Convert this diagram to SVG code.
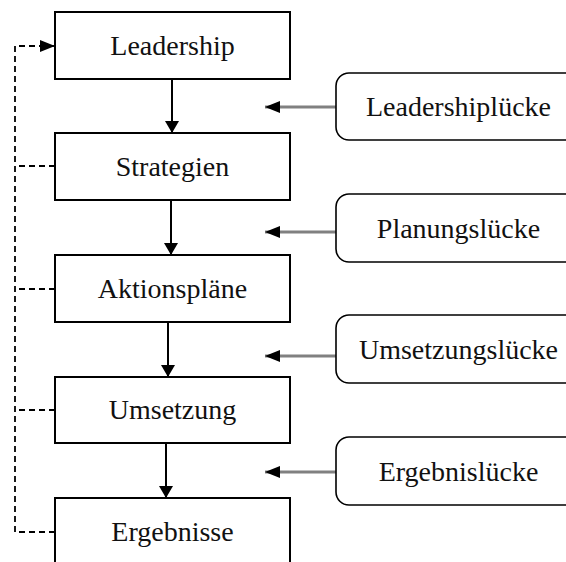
<svg xmlns="http://www.w3.org/2000/svg" width="566" height="562" viewBox="0 0 566 562">
<defs>
<marker id="ah" markerWidth="12" markerHeight="14" refX="12" refY="7" orient="auto" markerUnits="userSpaceOnUse"><path d="M0,0 L12,7 L0,14 Z" fill="#000"/></marker>
<marker id="ahs" markerWidth="15" markerHeight="12" refX="15" refY="6" orient="auto" markerUnits="userSpaceOnUse"><path d="M0,0 L15,6 L0,12 Z" fill="#000"/></marker>
</defs>
<style>
.box{fill:#fff;stroke:#000;stroke-width:2}
.rbox{fill:#fff;stroke:#000;stroke-width:1.6}
.t{font-family:"Liberation Serif",serif;font-size:28px;fill:#111;text-anchor:middle}
.flow{stroke:#000;stroke-width:2;fill:none}
.gap{stroke:#808080;stroke-width:3;fill:none}
.dash{stroke:#000;stroke-width:1.8;fill:none;stroke-dasharray:6,4}
</style>
<g id="connectors">
<path class="flow" d="M172,79 V133" marker-end="url(#ah)"/>
<path class="flow" d="M171,200 V255" marker-end="url(#ah)"/>
<path class="flow" d="M168,322 V377" marker-end="url(#ah)"/>
<path class="flow" d="M166,443 V498" marker-end="url(#ah)"/>
<path class="gap" d="M336,107 H265" marker-end="url(#ahs)"/>
<path class="gap" d="M336,232 H265" marker-end="url(#ahs)"/>
<path class="gap" d="M336,356 H265" marker-end="url(#ahs)"/>
<path class="gap" d="M336,472 H265" marker-end="url(#ahs)"/>
<path class="dash" d="M55,532 H15 V46 H50"/>
<path d="M40,46 H55" stroke="#000" stroke-width="1.8" marker-end="url(#ahs)"/>
<path class="dash" d="M55,166 H15 M55,289 H15 M55,410 H15"/>
</g>
<g id="n-leadership"><rect class="box" x="55" y="12" width="235" height="67"/><text class="t" x="172.5" y="55">Leadership</text></g>
<g id="n-strategien"><rect class="box" x="55" y="133" width="235" height="67"/><text class="t" x="172.5" y="176">Strategien</text></g>
<g id="n-aktionsplaene"><rect class="box" x="55" y="255" width="235" height="67"/><text class="t" x="172.5" y="298">Aktionspläne</text></g>
<g id="n-umsetzung"><rect class="box" x="55" y="377" width="235" height="66"/><text class="t" x="172.5" y="419">Umsetzung</text></g>
<g id="n-ergebnisse"><rect class="box" x="55" y="498" width="235" height="80"/><text class="t" x="172.5" y="541">Ergebnisse</text></g>
<g id="g-leadershipluecke"><rect class="rbox" x="336" y="73" width="245" height="67" rx="13"/><text class="t" x="458.5" y="116">Leadershiplücke</text></g>
<g id="g-planungsluecke"><rect class="rbox" x="336" y="194" width="245" height="68" rx="13"/><text class="t" x="458.5" y="238">Planungslücke</text></g>
<g id="g-umsetzungsluecke"><rect class="rbox" x="336" y="315" width="245" height="68" rx="13"/><text class="t" x="458.5" y="359">Umsetzungslücke</text></g>
<g id="g-ergebnisluecke"><rect class="rbox" x="336" y="437" width="245" height="68" rx="13"/><text class="t" x="458.5" y="481">Ergebnislücke</text></g>
</svg>
